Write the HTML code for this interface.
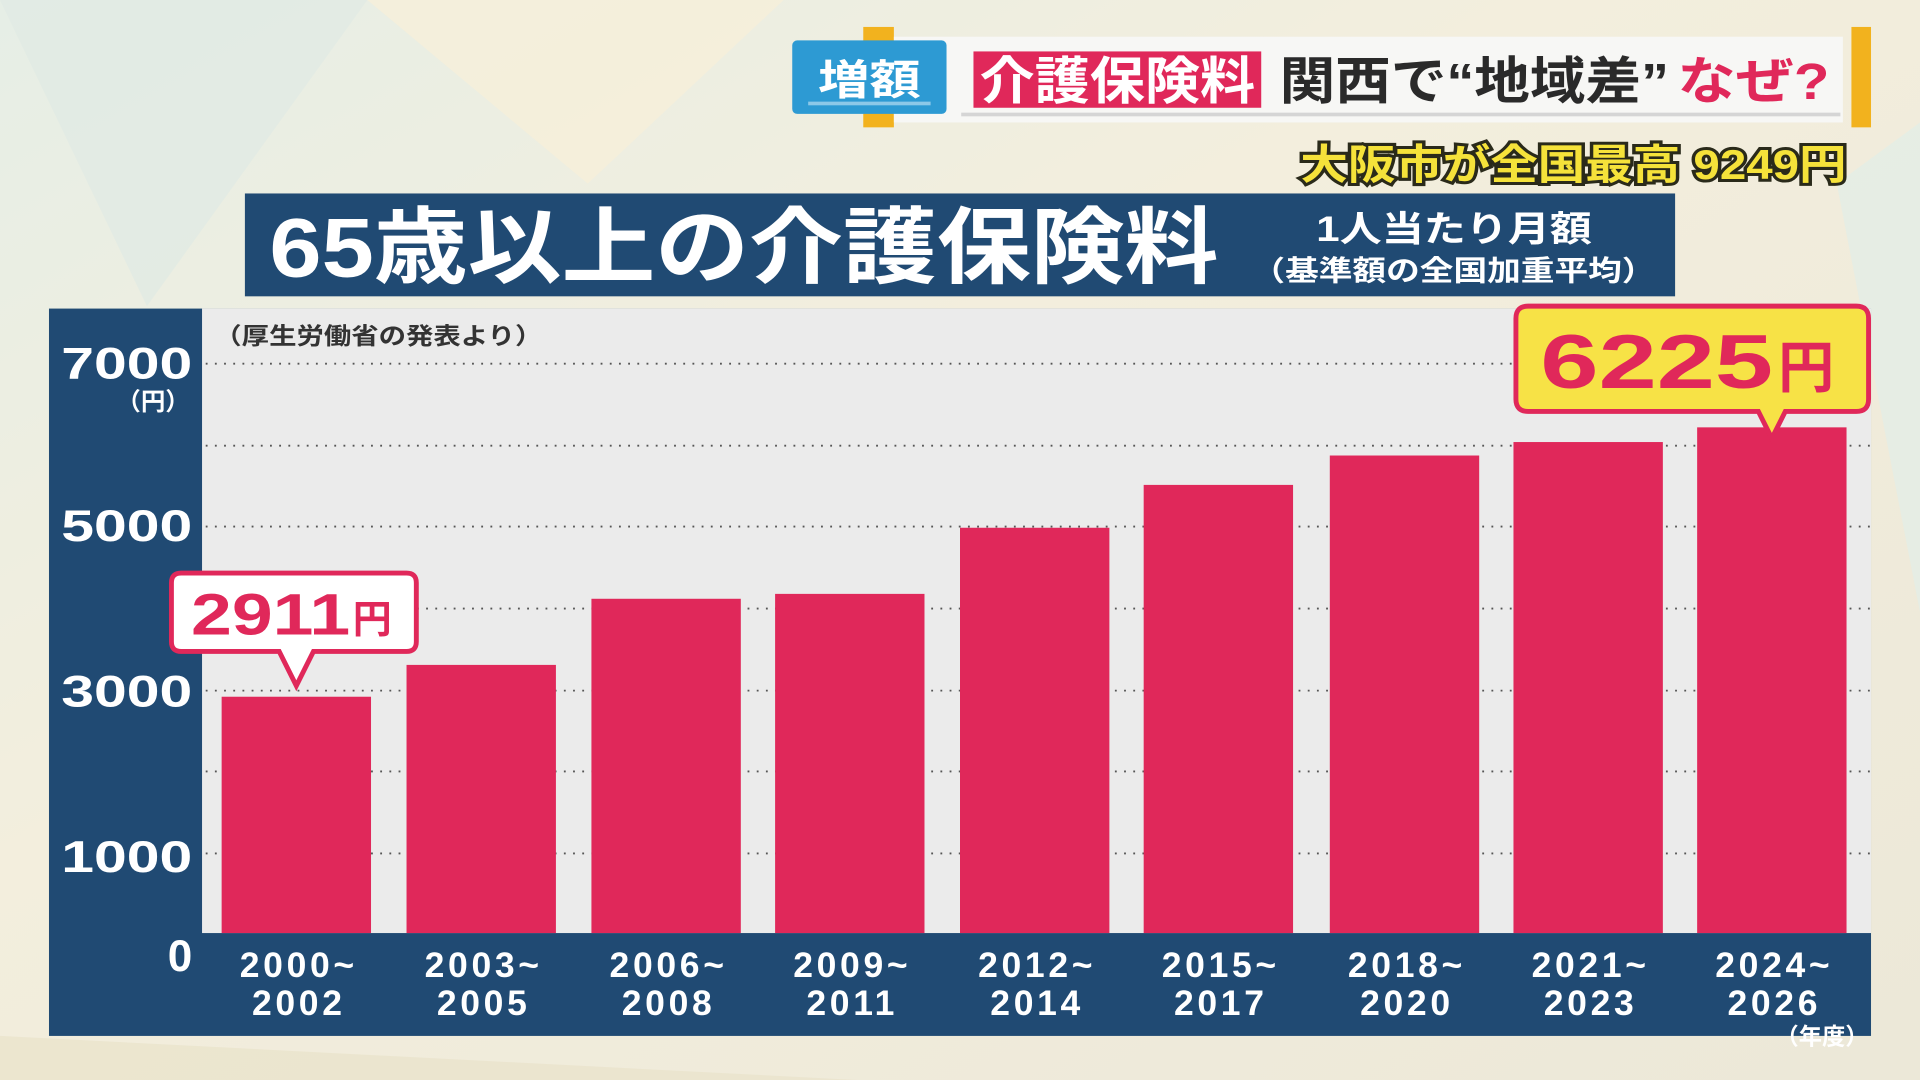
<!DOCTYPE html>
<html><head><meta charset="utf-8"><style>
html,body{margin:0;padding:0;width:1920px;height:1080px;overflow:hidden;background:#f1ece0}
svg{display:block}
text{font-family:"Liberation Sans","Noto Sans CJK JP",sans-serif;font-weight:bold}
</style></head><body>
<svg width="1920" height="1080" viewBox="0 0 1568 882" preserveAspectRatio="none">
<defs>
<linearGradient id="bg" x1="0" y1="0" x2="1" y2="1">
<stop offset="0" stop-color="#e6eee6"/><stop offset="0.4" stop-color="#f3eedd"/><stop offset="1" stop-color="#ece8d8"/>
</linearGradient>
</defs>
<rect width="1568" height="882" fill="url(#bg)"/>
<polygon points="0,0 300,0 120,250" fill="#dfe9e4" opacity="0.7"/>
<polygon points="300,0 640,0 480,150" fill="#f6efd9" opacity="0.8"/>
<polygon points="1500,150 1568,100 1568,500" fill="#e4ede6" opacity="0.8"/>
<polygon points="0,846 700,882 0,882" fill="#eae3cc" opacity="0.8"/>
<!-- top banner -->
<rect x="705" y="22" width="25" height="82" fill="#f2b21e"/>
<rect x="1512" y="22" width="16" height="82" fill="#f2b21e"/>
<rect x="730" y="30" width="775" height="70" fill="#f7f7f5"/>
<rect x="785" y="92" width="718" height="3" fill="#d5d5d5"/>
<rect x="647" y="33" width="126" height="60" rx="4" fill="#2d9ad3"/>
<rect x="660" y="83" width="100" height="3" fill="#8cc8e8"/>
<text x="668" y="77" font-size="34" fill="#fff" textLength="84" lengthAdjust="spacingAndGlyphs">増額</text>
<rect x="795" y="42" width="235" height="46" fill="#e0285a"/>
<text x="800" y="81" font-size="42" fill="#fff" textLength="225" lengthAdjust="spacingAndGlyphs">介護保険料</text>
<text x="1045" y="81" font-size="42" fill="#2a2a2a" textLength="318" lengthAdjust="spacingAndGlyphs">関西で“地域差”</text>
<text x="1370" y="81" font-size="42" fill="#e0285a" textLength="124" lengthAdjust="spacingAndGlyphs">なぜ?</text>
<text x="1062" y="146" font-size="34" fill="#f5e23a" stroke="#2a2a1a" stroke-width="5" paint-order="stroke" textLength="446" lengthAdjust="spacingAndGlyphs">大阪市が全国最高 9249円</text>
<!-- title -->
<rect x="200" y="158" width="1168" height="84" fill="#204a73"/>
<text x="220" y="226" font-size="68" fill="#fff" textLength="775" lengthAdjust="spacingAndGlyphs">65歳以上の介護保険料</text>
<text x="1075" y="197" font-size="29" fill="#fff" textLength="225" lengthAdjust="spacingAndGlyphs">1人当たり月額</text>
<text x="1022" y="229" font-size="23" fill="#fff" textLength="330" lengthAdjust="spacingAndGlyphs">（基準額の全国加重平均）</text>
<!-- chart -->
<rect x="40" y="252" width="1488" height="594" fill="#204a73"/>
<rect x="165" y="252" width="1363" height="510" fill="#ebebeb"/>
<g stroke="#555" stroke-width="1.5" stroke-dasharray="1.5 6">
<line x1="168" y1="297" x2="1528" y2="297"/><line x1="168" y1="364" x2="1528" y2="364"/>
<line x1="168" y1="430" x2="1528" y2="430"/><line x1="168" y1="497" x2="1528" y2="497"/>
<line x1="168" y1="564" x2="1528" y2="564"/><line x1="168" y1="630" x2="1528" y2="630"/>
<line x1="168" y1="697" x2="1528" y2="697"/>
</g>
<text x="175" y="281" font-size="19" fill="#333" textLength="268" lengthAdjust="spacingAndGlyphs">（厚生労働省の発表より）</text>
<g font-size="36" fill="#fff">
<text x="50" y="309" textLength="107" lengthAdjust="spacingAndGlyphs">7000</text>
<text x="50" y="442" textLength="107" lengthAdjust="spacingAndGlyphs">5000</text>
<text x="50" y="577" textLength="107" lengthAdjust="spacingAndGlyphs">3000</text>
<text x="50" y="712" textLength="107" lengthAdjust="spacingAndGlyphs">1000</text>
<text x="157" y="793" text-anchor="end">0</text>
</g>
<text x="155" y="335" font-size="20" fill="#fff" text-anchor="end">（円）</text>
<g fill="#e0285a">
<rect x="181" y="569" width="122" height="193"/>
<rect x="332" y="543" width="122" height="219"/>
<rect x="483" y="489" width="122" height="273"/>
<rect x="633" y="485" width="122" height="277"/>
<rect x="784" y="431" width="122" height="331"/>
<rect x="934" y="396" width="122" height="366"/>
<rect x="1086" y="372" width="122" height="390"/>
<rect x="1236" y="361" width="122" height="401"/>
<rect x="1386" y="349" width="122" height="413"/>
</g>
<g font-size="29" fill="#fff" text-anchor="middle" letter-spacing="3">
<text x="244" y="798">2000~</text><text x="244" y="829">2002</text>
<text x="395" y="798">2003~</text><text x="395" y="829">2005</text>
<text x="546" y="798">2006~</text><text x="546" y="829">2008</text>
<text x="696" y="798">2009~</text><text x="696" y="829">2011</text>
<text x="847" y="798">2012~</text><text x="847" y="829">2014</text>
<text x="997" y="798">2015~</text><text x="997" y="829">2017</text>
<text x="1149" y="798">2018~</text><text x="1149" y="829">2020</text>
<text x="1299" y="798">2021~</text><text x="1299" y="829">2023</text>
<text x="1449" y="798">2024~</text><text x="1449" y="829">2026</text>
</g>
<text x="1526" y="853" font-size="19" fill="#fff" text-anchor="end">（年度）</text>
<!-- callouts -->
<path d="M148,468 H332 Q340,468 340,476 V524 Q340,532 332,532 H256 L242,560 L228,532 H148 Q140,532 140,524 V476 Q140,468 148,468 Z" fill="#fff" stroke="#e0285a" stroke-width="4"/>
<text x="156" y="518" font-size="48" fill="#e0285a" textLength="130" lengthAdjust="spacingAndGlyphs">2911</text>
<text x="288" y="517" font-size="32" fill="#e0285a">円</text>
<path d="M1248,250 H1516 Q1526,250 1526,260 V326 Q1526,336 1516,336 H1458 L1447,358 L1436,336 H1248 Q1238,336 1238,326 V260 Q1238,250 1248,250 Z" fill="#f7e246" stroke="#e0285a" stroke-width="4"/>
<text x="1258" y="317" font-size="62" fill="#e0285a" textLength="190" lengthAdjust="spacingAndGlyphs">6225</text>
<text x="1452" y="316" font-size="46" fill="#e0285a">円</text>
</svg>
</body></html>
